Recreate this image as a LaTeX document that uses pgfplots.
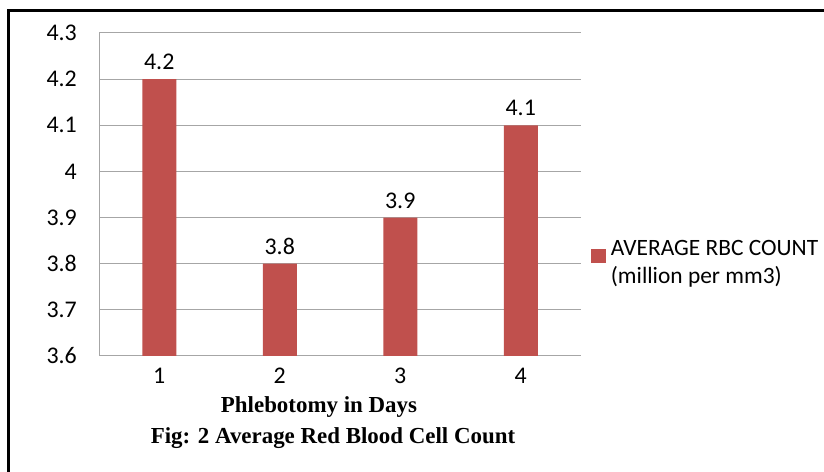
\documentclass[border=0pt]{standalone}
\usepackage{pgfplots}
\pgfplotsset{compat=1.18}
\usepackage{fontspec}
\setmainfont{Carlito}
\newfontfamily\timesfont{Liberation Serif}
\definecolor{barred}{HTML}{C0504D}
\definecolor{gridgray}{HTML}{A6A6A6}
\begin{document}
\begin{tikzpicture}[x=1bp,y=1bp]
\useasboundingbox (0,0) rectangle (824,472);
\draw[line width=3bp] (8,0) -- (8,461) -- (824,461);
\begin{axis}[
  at={(99bp,116bp)}, anchor=south west,
  scale only axis, width=482bp, height=323bp,
  xmin=0.5, xmax=4.5, ymin=3.6, ymax=4.3,
  xtick={1,2,3,4},
  ytick={3.6,3.7,3.8,3.9,4.0,4.1,4.2,4.3},
  axis x line*=bottom, axis y line*=left,
  axis line style={gridgray, line width=1bp, -},
  ymajorgrids, grid style={gridgray, line width=1bp},
  major tick length=0pt,
  /pgf/number format/assume math mode=true,
  /pgf/number format/fixed,
  tick label style={font=\fontsize{24}{26}\selectfont},
  yticklabel style={anchor=east, inner sep=0pt, xshift=-22bp},
  xticklabel style={anchor=north, inner sep=0pt, yshift=-12bp},
  ybar, bar width=34bp,
  nodes near coords,
  nodes near coords style={font=\fontsize{24}{26}\selectfont, text=black, inner sep=0pt, yshift=9bp},
  legend style={at={(1.02,0.365)}, anchor=north west, draw=none, fill=none, inner sep=0pt,
    font=\fontsize{23.5}{28}\selectfont, cells={align=left}},
]
\addplot[fill=barred, draw=none, legend image code/.code={\fill[barred] (0bp,0bp) rectangle (15bp,14bp);}]
  coordinates {(1,4.2) (2,3.8) (3,3.9) (4,4.1)};
\addlegendentry{\hspace{3bp}AVERAGE RBC COUNT\\\hspace{3bp}(million per mm3)}
\end{axis}
\node[font=\timesfont\bfseries\fontsize{23}{26}\selectfont] at (319,65) {Phlebotomy in Days};
\node[font=\timesfont\bfseries\fontsize{23}{26}\selectfont] at (333,34) {Fig: 2 Average Red Blood Cell Count};
\end{tikzpicture}
\end{document}
